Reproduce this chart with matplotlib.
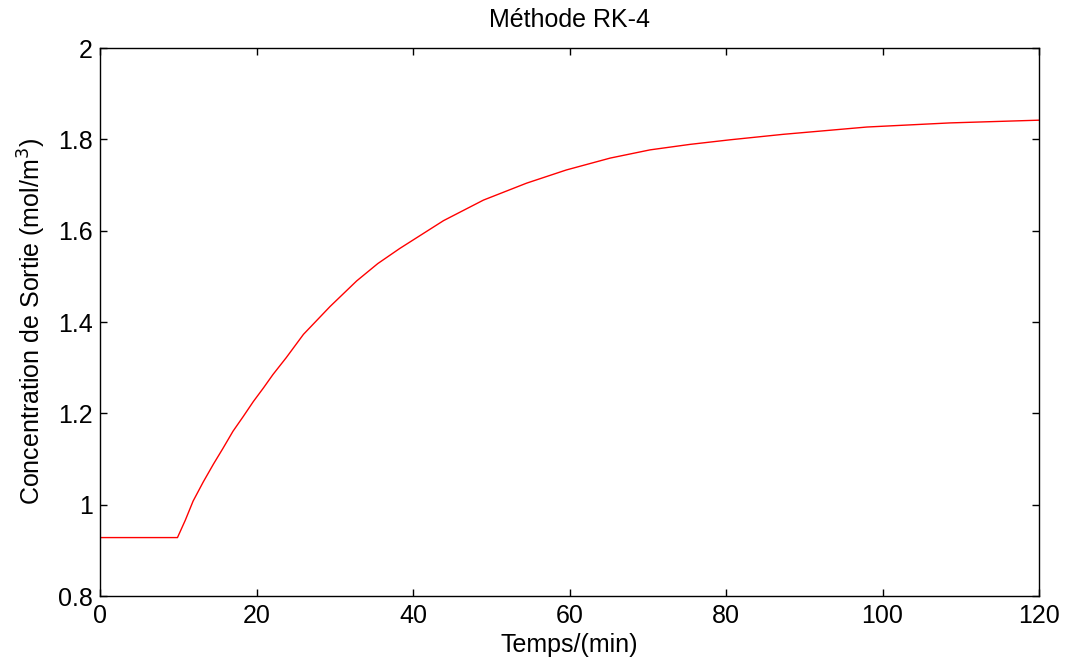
import matplotlib
matplotlib.use("Agg")
import matplotlib.pyplot as plt

# Data
temps = [0, 9.9, 10.9, 11.9, 13.2, 14.5, 15.7, 17.0, 18.3, 19.6, 20.9, 22.1,
         23.8, 26.0, 29.4, 32.8, 35.5, 38.3, 43.9, 49.0, 54.5, 59.6, 65.2,
         70.3, 75.4, 80.5, 87.3, 98.0, 108.6, 120.0]
concentration = [0.928, 0.928, 0.966, 1.008, 1.050, 1.089, 1.123, 1.161, 1.193,
                 1.226, 1.256, 1.285, 1.322, 1.373, 1.434, 1.490, 1.528, 1.561,
                 1.622, 1.667, 1.704, 1.733, 1.759, 1.777, 1.789, 1.799, 1.811,
                 1.827, 1.836, 1.842]
xticks = [0, 20, 40, 60, 80, 100, 120]
yticks = [0.8, 1.0, 1.2, 1.4, 1.6, 1.8, 2.0]
yticklabels = ["0.8", "1", "1.2", "1.4", "1.6", "1.8", "2"]

plt.rcParams['font.family'] = ['Liberation Sans', 'DejaVu Sans']

fig = plt.figure(figsize=(10.65, 6.67), dpi=100)
ax = fig.add_axes([0.0939, 0.1064, 0.8817, 0.8216])

ax.plot(temps, concentration, color='red', linewidth=1.0)

ax.set_xlim(0, 120)
ax.set_ylim(0.8, 2.0)
ax.set_xticks(xticks)
ax.set_yticks(yticks)
ax.set_yticklabels(yticklabels)
ax.tick_params(direction='in', length=5, width=1, labelsize=18,
               top=True, right=True)
ax.tick_params(axis='x', pad=6)
ax.tick_params(axis='y', pad=5)
for s in ax.spines.values():
    s.set_linewidth(1.0)

ax.set_title("Méthode RK-4", fontsize=18, pad=15)
ax.set_xlabel("Temps/(min)", fontsize=18, labelpad=3)
ax.set_ylabel("Concentration de Sortie (mol/m$^3$)", fontsize=18, labelpad=7)

fig.savefig("out.png", dpi=100)
